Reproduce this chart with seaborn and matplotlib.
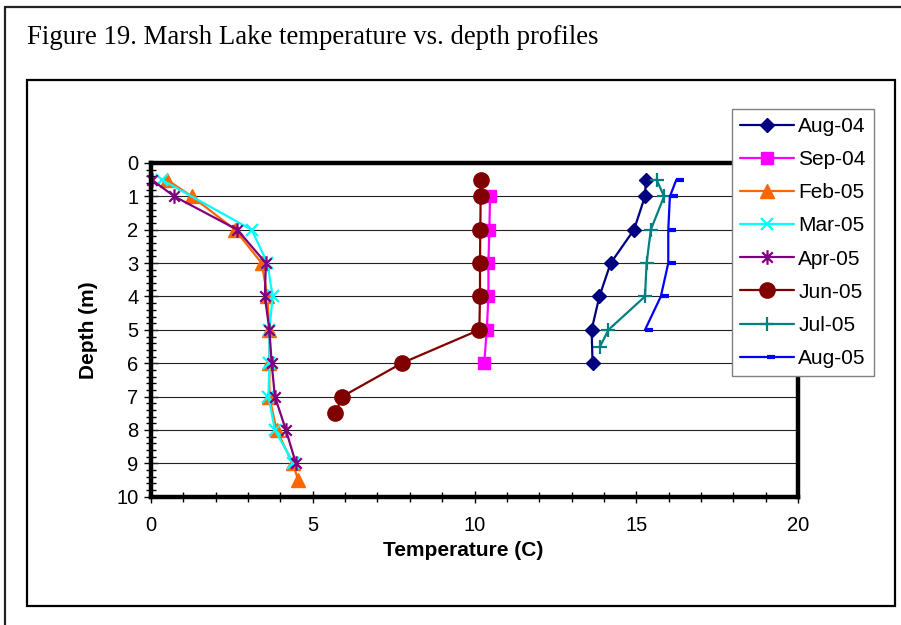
import matplotlib
matplotlib.use("Agg")
import matplotlib.pyplot as plt
from matplotlib.path import Path
from matplotlib.patches import Rectangle
from matplotlib.lines import Line2D
from matplotlib.ticker import MultipleLocator
import pandas as pd
import seaborn as sns

# ---- Marsh Lake profiles: depth (m) and temperature (C) per sampling date ----
series_names = ["Aug-04", "Sep-04", "Feb-05", "Mar-05", "Apr-05", "Jun-05", "Jul-05", "Aug-05"]

aug04_depth = [0.5, 1, 2, 3, 4, 5, 6]
aug04_temp = [15.30, 15.27, 14.93, 14.21, 13.86, 13.62, 13.65]

sep04_depth = [1, 2, 3, 4, 5, 6]
sep04_temp = [10.48, 10.46, 10.43, 10.43, 10.38, 10.30]

feb05_depth = [0.5, 1, 2, 3, 4, 5, 6, 7, 8, 9, 9.5]
feb05_temp = [0.49, 1.26, 2.60, 3.42, 3.60, 3.66, 3.66, 3.66, 3.88, 4.38, 4.55]

mar05_depth = [0.5, 2, 3, 4, 5, 6, 7, 8, 9]
mar05_temp = [0.33, 3.11, 3.60, 3.76, 3.66, 3.66, 3.63, 3.83, 4.40]

apr05_depth = [0.5, 1, 2, 3, 4, 5, 6, 7, 8, 9]
apr05_temp = [0.02, 0.72, 2.67, 3.55, 3.52, 3.66, 3.73, 3.83, 4.17, 4.48]

jun05_depth = [0.5, 1, 2, 3, 4, 5, 6, 7, 7.5]
jun05_temp = [10.19, 10.19, 10.18, 10.17, 10.17, 10.15, 7.75, 5.91, 5.70]

jul05_depth = [0.5, 1, 2, 3, 4, 5, 5.5]
jul05_temp = [15.63, 15.86, 15.45, 15.32, 15.27, 14.14, 13.88]

aug05_depth = [0.5, 1, 2, 3, 4, 5]
aug05_temp = [16.24, 16.04, 15.99, 15.99, 15.76, 15.27]

x_ticks = [0, 5, 10, 15, 20]
y_ticks = [0, 1, 2, 3, 4, 5, 6, 7, 8, 9, 10]

depths = [aug04_depth, sep04_depth, feb05_depth, mar05_depth,
          apr05_depth, jun05_depth, jul05_depth, aug05_depth]
temps = [aug04_temp, sep04_temp, feb05_temp, mar05_temp,
         apr05_temp, jun05_temp, jul05_temp, aug05_temp]

# ---- marker shapes ----
# asterisk: vertical bar plus an x
asterisk = Path([(0, -1), (0, 1), (-0.72, -0.72), (0.72, 0.72), (-0.72, 0.72), (0.72, -0.72)],
                [Path.MOVETO, Path.LINETO, Path.MOVETO, Path.LINETO, Path.MOVETO, Path.LINETO])
# short dash that starts at the point and runs to the right
short_dash = Path([(0, 0), (1, 0)], [Path.MOVETO, Path.LINETO])

styles = [
    dict(color="#000080", marker="D", ms=7.2, mew=1.0),
    dict(color="#FF00FF", marker="s", ms=8.5, mew=1.0),
    dict(color="#FF6600", marker="^", ms=10.5, mew=1.0),
    dict(color="#00FFFF", marker="x", ms=8.5, mew=1.6),
    dict(color="#800080", marker=asterisk, ms=10.5, mew=1.6),
    dict(color="#800000", marker="o", ms=11.0, mew=1.0),
    dict(color="#008080", marker="+", ms=9.5, mew=1.6),
    dict(color="#0000FF", marker=short_dash, ms=12.0, mew=3.0),
]

sns.set_theme(style="white")
plt.rcParams["font.family"] = ["Liberation Sans", "DejaVu Sans"]
plt.rcParams["text.color"] = "black"
plt.rcParams["axes.labelcolor"] = "black"
plt.rcParams["xtick.color"] = "black"
plt.rcParams["ytick.color"] = "black"

fig = plt.figure(figsize=(9.01, 6.25), dpi=100)
W, H = 901.0, 625.0

def fx(px):
    return px / W

def fy(py):
    return 1 - py / H

# page frame (top and left edges) and chart-area box
fig.add_artist(Line2D([fx(5), 1.0], [fy(7), fy(7)], transform=fig.transFigure,
                      color="#222222", lw=1.6))
fig.add_artist(Line2D([fx(5), fx(5)], [fy(7), 0.0], transform=fig.transFigure,
                      color="#222222", lw=1.6))
fig.add_artist(Rectangle((fx(27), fy(606)), fx(895) - fx(27), fy(80) - fy(606),
                         transform=fig.transFigure, fill=False, ec="black", lw=1.6))

fig.text(fx(27), fy(44), "Figure 19. Marsh Lake temperature vs. depth profiles",
         family=["Liberation Serif", "DejaVu Serif"], fontsize=19.3, va="baseline",
         ha="left", color="black")

ax = fig.add_axes([fx(151), fy(496.7), fx(798) - fx(151), fy(163) - fy(496.7)])
ax.set_facecolor("white")

handles = []
for i, (name, d, t, st) in enumerate(zip(series_names, depths, temps, styles)):
    df = pd.DataFrame({"Temperature": t, "Depth": d})
    n_before = len(ax.get_lines())
    sns.lineplot(data=df, x="Temperature", y="Depth", sort=False, estimator=None,
                 ax=ax, color=st["color"], lw=1.6, marker=st["marker"],
                 markersize=st["ms"], markeredgewidth=st["mew"],
                 markeredgecolor=st["color"], markerfacecolor=st["color"],
                 label=name, legend=False, zorder=3 + i, clip_on=False)
    handles.append(ax.get_lines()[n_before])

ax.set_xlim(0, 20)
ax.set_ylim(10, 0)
ax.set_xticks(x_ticks)
ax.set_yticks(y_ticks)
ax.xaxis.set_minor_locator(MultipleLocator(1))
ax.yaxis.set_minor_locator(MultipleLocator(0.2))

ax.grid(False)
for yv in y_ticks[1:-1]:
    ax.axhline(yv, color="#222222", lw=0.8, zorder=1)

for sp in ax.spines.values():
    sp.set_visible(True)
    sp.set_color("black")
    sp.set_linewidth(3.2)
    sp.set_zorder(20)

ax.tick_params(axis="x", which="major", direction="inout", length=8, width=1,
               color="black", labelsize=14.5, pad=10, bottom=True, top=False)
ax.tick_params(axis="x", which="minor", direction="inout", length=7, width=1,
               color="black", bottom=True, top=False)
ax.tick_params(axis="y", which="major", direction="inout", length=10, width=1,
               color="black", labelsize=14.5, pad=4, left=True, right=False)
ax.tick_params(axis="y", which="minor", direction="inout", length=7, width=1,
               color="black", left=True, right=False)

ax.set_xlabel("Temperature (C)", fontsize=15, fontweight="bold", va="center")
ax.xaxis.set_label_coords((463 - 151) / 647.0, -(550 - 496.7) / 333.7)
ax.set_ylabel("Depth (m)", fontsize=15, fontweight="bold", va="center")
ax.yaxis.set_label_coords((88 - 151) / 647.0, 0.5)

leg = ax.legend(handles=handles, labels=series_names, loc="upper left",
                bbox_to_anchor=(fx(732), fy(109)), bbox_transform=fig.transFigure,
                frameon=True, fancybox=False, framealpha=1, edgecolor="#808080",
                fontsize=15, handlelength=2.6, handletextpad=0.2, labelspacing=0.68,
                borderpad=0.38, borderaxespad=0, numpoints=1)
leg.get_frame().set_linewidth(1.0)
leg.set_zorder(30)

fig.savefig("out.png", dpi=100, facecolor="white")
